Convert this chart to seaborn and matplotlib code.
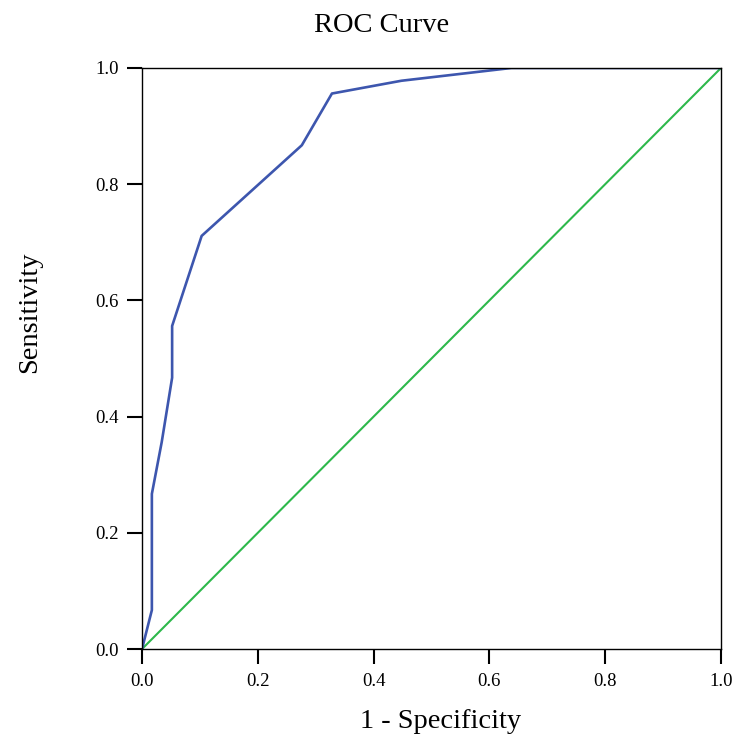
import matplotlib
matplotlib.use("Agg")
import matplotlib.pyplot as plt
import seaborn as sns
import pandas as pd

# ROC curve coordinates (false positive rate vs. true positive rate)
fpr = [0.0, 0.017, 0.017, 0.034, 0.052, 0.052, 0.103, 0.276, 0.328, 0.448, 0.638, 1.0]
tpr = [0.0, 0.067, 0.267, 0.356, 0.467, 0.556, 0.711, 0.867, 0.956, 0.978, 1.0, 1.0]

# Chance (reference) line
ref_x = [0.0, 1.0]
ref_y = [0.0, 1.0]

tick_values = [0.0, 0.2, 0.4, 0.6, 0.8, 1.0]
tick_labels = ["0.0", "0.2", "0.4", "0.6", "0.8", "1.0"]

sns.set_theme(style="white")
plt.rcParams["font.family"] = ["Liberation Serif", "DejaVu Serif"]

roc = pd.DataFrame({"fpr": fpr, "tpr": tpr})
ref = pd.DataFrame({"x": ref_x, "y": ref_y})

fig = plt.figure(figsize=(7.37, 7.42), dpi=100)
ax = fig.add_axes([0.1927, 0.1253, 0.7856, 0.7831])

sns.lineplot(data=ref, x="x", y="y", ax=ax, color="#2db84b", linewidth=1.5,
             sort=False, estimator=None)
sns.lineplot(data=roc, x="fpr", y="tpr", ax=ax, color="#3d56ae", linewidth=1.9,
             sort=False, estimator=None)

ax.set_xlim(0, 1)
ax.set_ylim(0, 1)
ax.set_xticks(tick_values)
ax.set_xticklabels(tick_labels)
ax.set_yticks(tick_values)
ax.set_yticklabels(tick_labels)

ax.tick_params(axis="both", which="major", direction="out", length=11,
               width=1.5, color="black", labelsize=13.5, labelcolor="black",
               pad=6, bottom=True, left=True)

for side, spine in ax.spines.items():
    spine.set_visible(True)
    spine.set_color("black")
    spine.set_linewidth(1.0)

ax.set_title("ROC Curve", fontsize=20.5, pad=26, color="black", x=0.413)
ax.set_xlabel("1 - Specificity", fontsize=20.5, labelpad=14, color="black", x=0.516)
ax.set_ylabel("Sensitivity", fontsize=20.5, labelpad=38, color="black", y=0.58)

fig.savefig("out.png", dpi=100, facecolor="white")
